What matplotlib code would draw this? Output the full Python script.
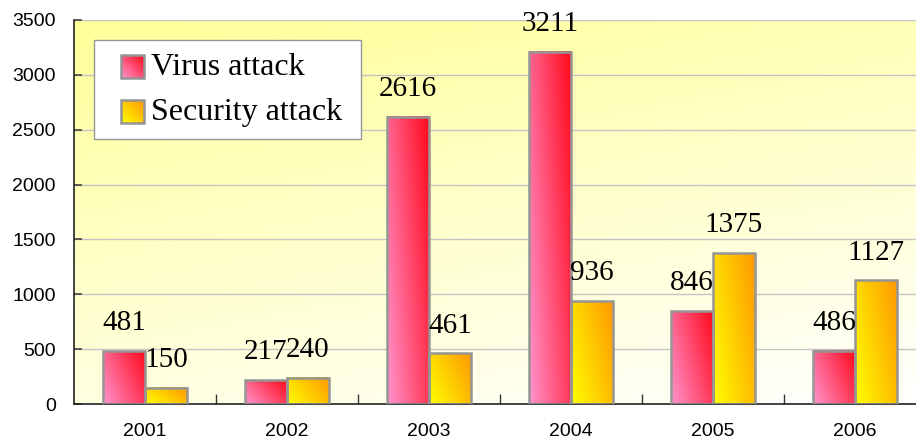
import numpy as np
import matplotlib
matplotlib.use("Agg")
import matplotlib.pyplot as plt
from matplotlib.colors import to_rgb
from matplotlib.patches import Rectangle
from matplotlib.legend_handler import HandlerBase

# data
years = ["2001", "2002", "2003", "2004", "2005", "2006"]
virus = [481, 217, 2616, 3211, 846, 486]
security = [150, 240, 461, 936, 1375, 1127]
series_names = ["Virus attack", "Security attack"]

# gradient ends (light corner -> dark corner)
virus_grad = ("#ff94cc", "#ff0a1e")
security_grad = ("#ffff00", "#ff9900")
bg_grad = ("#ffff99", "#ffffff")
edge_gray = "#959595"


def blend(c0, c1, t):
    a = np.array(to_rgb(c0))
    b = np.array(to_rgb(c1))
    t = np.clip(t, 0, 1)[..., None]
    return a * (1 - t) + b * t


def bar_gradient(c0, c1, n=64):
    u = np.linspace(0, 1, n)[None, :]
    v = np.linspace(0, 1, n)[:, None]   # row 0 = bottom (origin='lower')
    t = 0.65 * u + 0.35 * v
    return blend(c0, c1, t)


class GradientSquare(HandlerBase):
    """square legend key with a diagonal gradient, right-aligned in the handle box"""
    def __init__(self, c0, c1):
        super().__init__()
        self.c0, self.c1 = c0, c1

    def create_artists(self, legend, orig_handle, xdescent, ydescent,
                       width, height, fontsize, trans):
        n = 12
        side = height
        x0, y0 = -xdescent + width - side, -ydescent - 2
        arts = []
        for i in range(n):
            for j in range(n):
                t = 0.5 * (i + 0.5) / n + 0.5 * (j + 0.5) / n
                col = blend(self.c0, self.c1, np.array(t))
                arts.append(Rectangle((x0 + i * side / n, y0 + j * side / n),
                                      side / n * 1.05, side / n * 1.05,
                                      facecolor=col, edgecolor="none",
                                      transform=trans))
        arts.append(Rectangle((x0, y0), side, side, facecolor="none",
                              edgecolor=edge_gray, lw=1.8, transform=trans))
        return arts


fig = plt.figure(figsize=(9.16, 4.44), dpi=100)
ax = fig.add_axes([74 / 916, 40 / 444, 852 / 916, 384 / 444])

# background
yy, xx = np.mgrid[0:1:100j, 0:1:100j]
bg = blend(bg_grad[0], bg_grad[1], 0.3 * xx + 0.7 * yy)
ax.imshow(bg, extent=(0, 1, 0, 1), transform=ax.transAxes, aspect="auto",
          zorder=0, interpolation="bilinear")

x = np.arange(len(years))
w = 0.295
b1 = ax.bar(x - w / 2, virus, w, facecolor="none", edgecolor=edge_gray,
            lw=1.8, zorder=3)
b2 = ax.bar(x + w / 2, security, w, facecolor="none", edgecolor=edge_gray,
            lw=1.8, zorder=3)

for bars, grad in ((b1, virus_grad), (b2, security_grad)):
    img = bar_gradient(*grad)
    for r in bars:
        ax.imshow(img, extent=(r.get_x(), r.get_x() + r.get_width(), 0, r.get_height()),
                  origin="lower", aspect="auto", zorder=2, interpolation="bilinear")
        ax.annotate(f"{r.get_height():.0f}",
                    (r.get_x() + r.get_width() / 2, r.get_height()),
                    xytext=(0, 15), textcoords="offset points",
                    ha="center", va="baseline", fontsize=21,
                    family="Liberation Serif", zorder=5)

ax.set_xlim(-0.5, len(years) - 0.5)
ax.set_ylim(0, 3500)
ax.set_yticks(np.arange(0, 3501, 500))
ax.yaxis.grid(True, color="#c4c4c4", lw=1)
ax.set_axisbelow(True)

ax.set_xticks(x)
ax.set_xticklabels(years)
ax.set_xticks(np.arange(0.5, len(years) - 0.5), minor=True)
ax.tick_params(axis="x", which="major", length=0, pad=14)
ax.tick_params(axis="x", which="minor", direction="in", length=7, width=1, color="#333333")
ax.tick_params(axis="y", direction="in", length=6, width=1.2, color="#444444", pad=13)
for lab in ax.get_xticklabels() + ax.get_yticklabels():
    lab.set_family("Liberation Sans")
    lab.set_fontsize(14)

for s in ("top", "right"):
    ax.spines[s].set_visible(False)
ax.spines["left"].set_color("#222222")
ax.spines["bottom"].set_color("#222222")
ax.spines["left"].set_linewidth(1.2)
ax.spines["bottom"].set_linewidth(1.2)

h1 = Rectangle((0, 0), 1, 1)
h2 = Rectangle((0, 0), 1, 1)
leg = ax.legend([h1, h2], series_names,
                handler_map={h1: GradientSquare(*virus_grad),
                             h2: GradientSquare(*security_grad)},
                loc="upper left", mode="expand",
                bbox_to_anchor=(20 / 852, 267 / 384, 267 / 852, 97 / 384),
                borderaxespad=0, prop={"family": "Liberation Serif", "size": 23},
                handlelength=1.18, handleheight=0.72, handletextpad=0.22,
                labelspacing=0.5, borderpad=0.38, fancybox=False,
                framealpha=1, facecolor="white", edgecolor=edge_gray)
leg.get_frame().set_linewidth(1.0)
leg.set_zorder(6)

fig.savefig("out.png", dpi=100)
